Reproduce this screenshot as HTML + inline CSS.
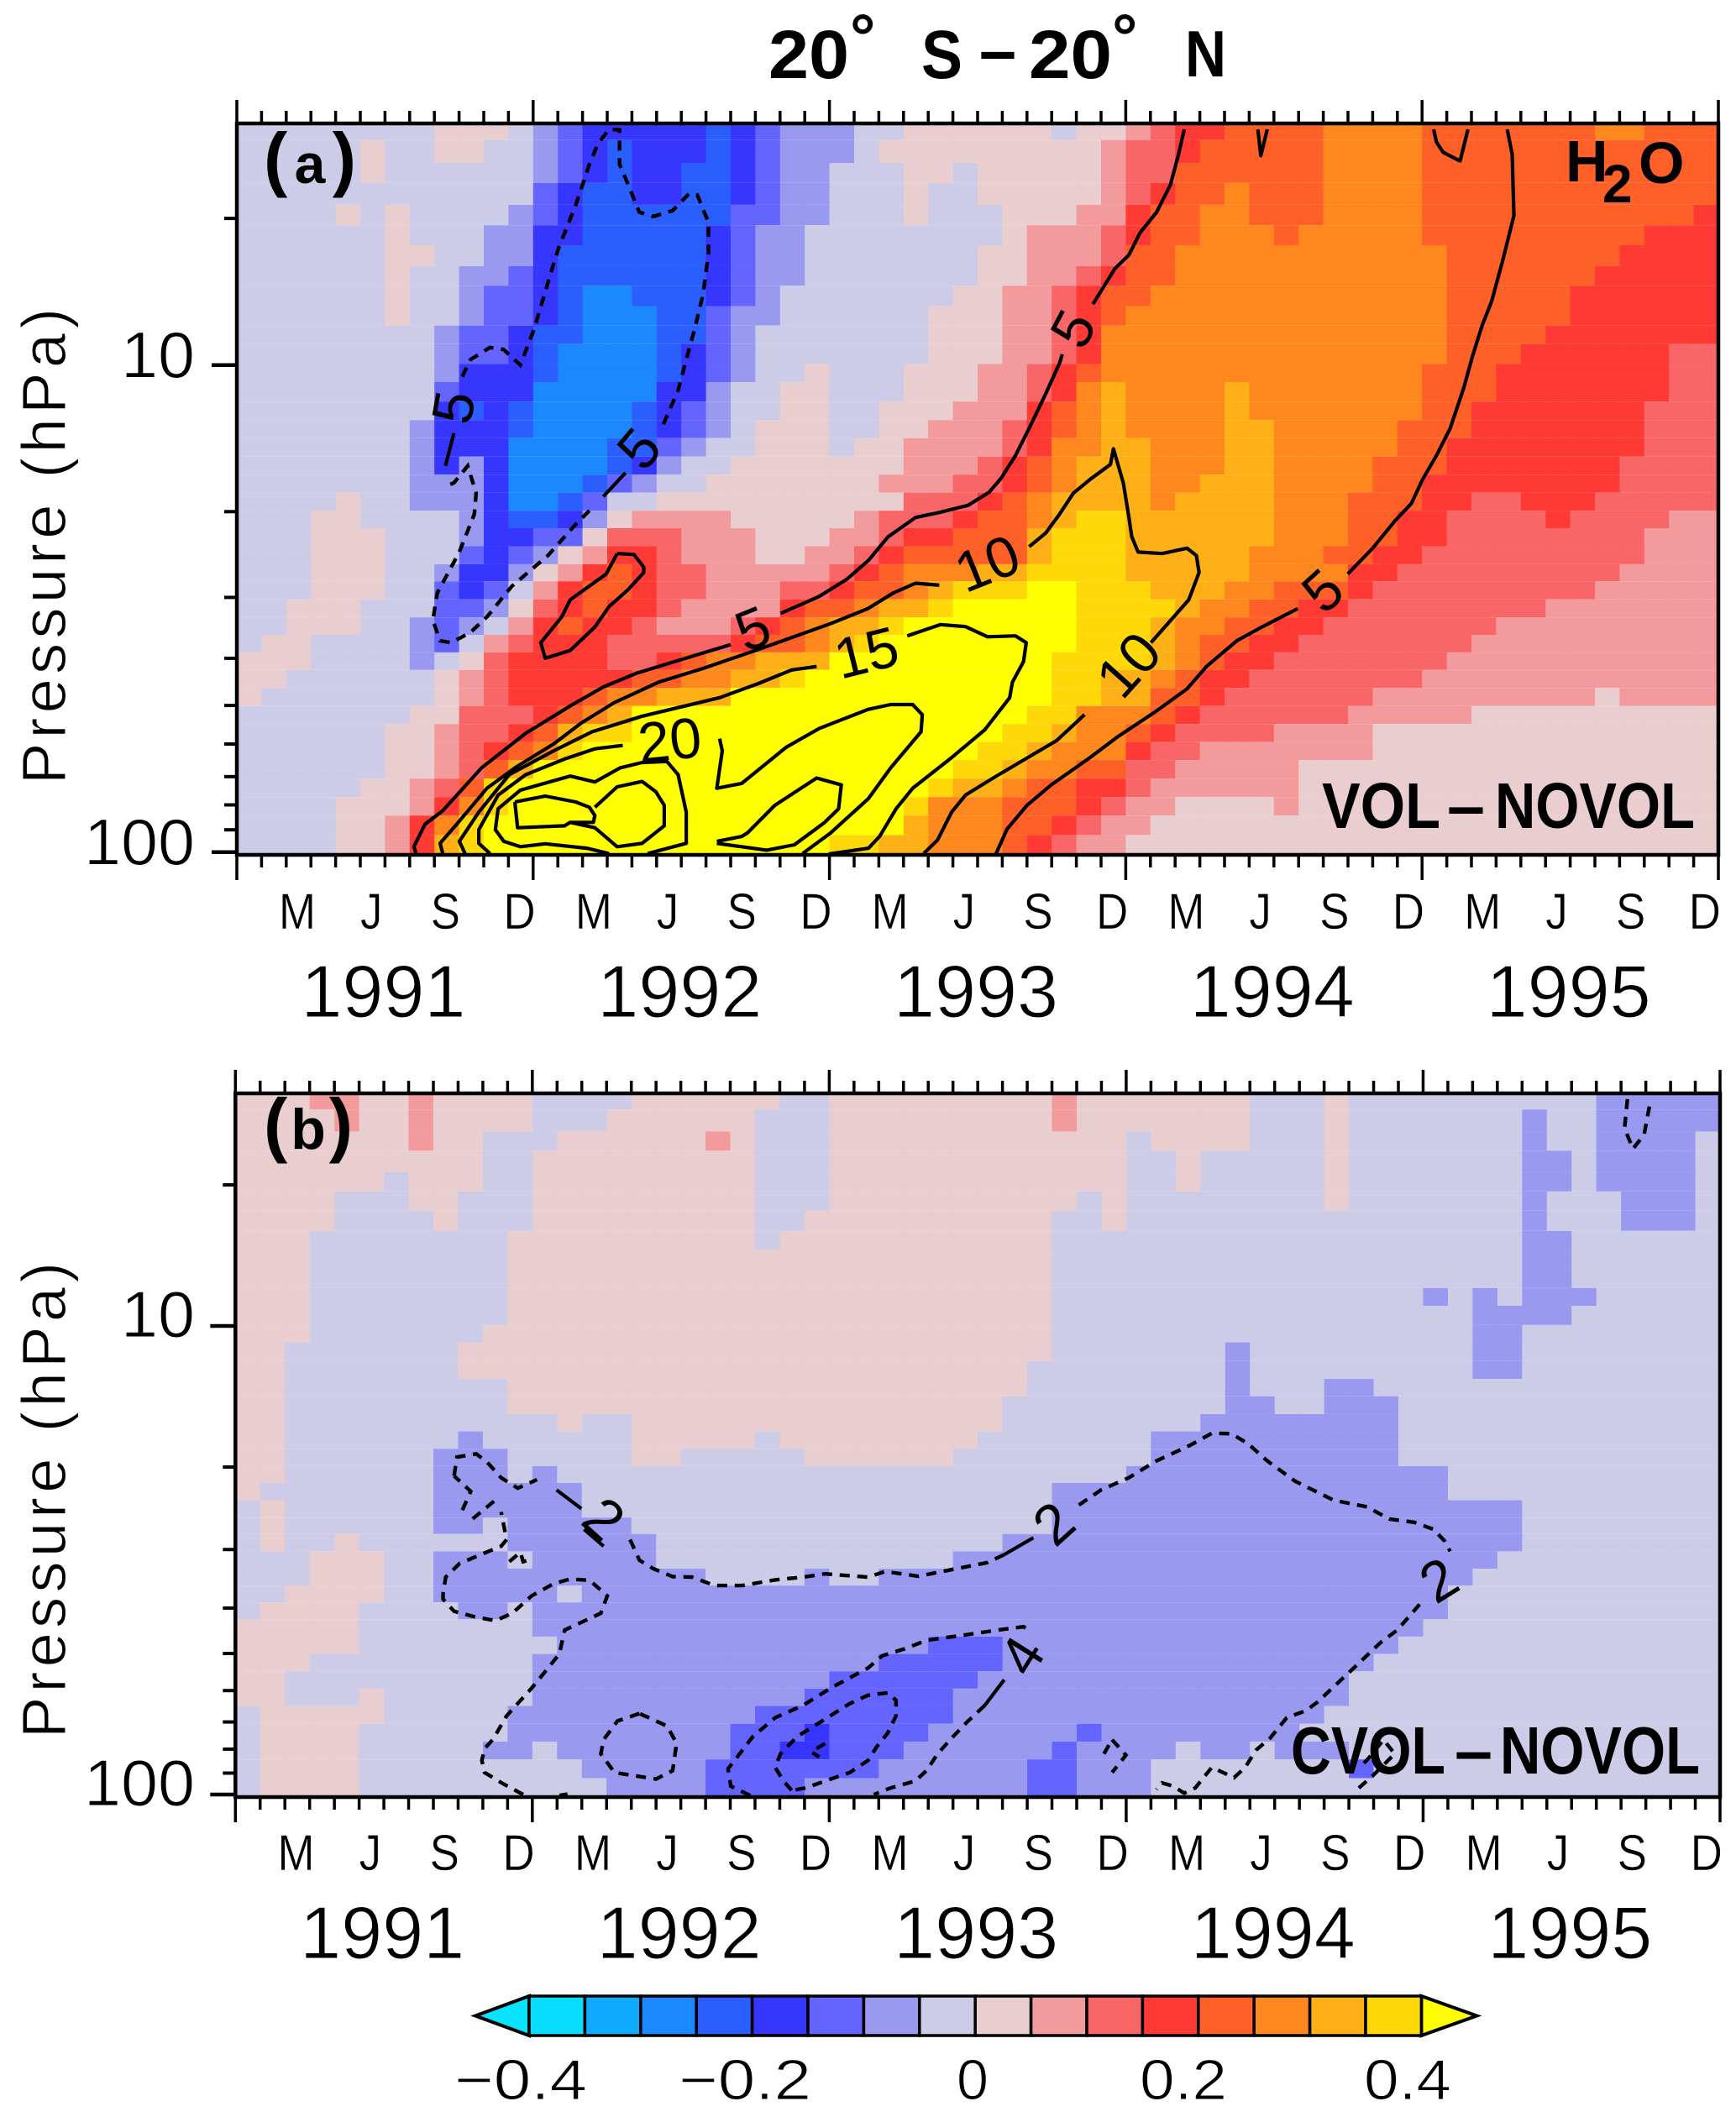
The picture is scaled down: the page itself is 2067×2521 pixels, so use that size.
<!DOCTYPE html>
<html lang="en">
<head>
<meta charset="utf-8">
<title>20° S – 20° N H2O anomalies</title>
<style>
html,body{margin:0;padding:0;background:#fff;}
svg{display:block;}
text{font-family:"Liberation Sans",sans-serif;fill:#000;}
.thin{stroke:#fff;stroke-width:1.1px;}
.thinner{stroke:#fff;stroke-width:0.5px;}
.bold{font-weight:bold;}
</style>
</head>
<body>
<svg id="chart" xmlns="http://www.w3.org/2000/svg" width="2067" height="2521" viewBox="0 0 2067 2521">
<rect x="0" y="0" width="2067" height="2521" fill="#fff"/>
<g id="panelA"></g>
<g id="panelB"></g>
<g id="colorbar"></g>
<g>
<text class="bold" x="915" y="93" font-size="82" textLength="96" lengthAdjust="spacingAndGlyphs">20</text>
<text class="bold" x="1012" y="70" font-size="76">°</text>
<text class="bold" x="1097" y="93" font-size="82" textLength="49" lengthAdjust="spacingAndGlyphs">S</text>
<text class="bold" x="1166" y="88" font-size="82" textLength="44" lengthAdjust="spacingAndGlyphs">–</text>
<text class="bold" x="1225" y="93" font-size="82" textLength="99" lengthAdjust="spacingAndGlyphs">20</text>
<text class="bold" x="1324" y="70" font-size="76">°</text>
<text class="bold" x="1411" y="91" font-size="78" textLength="49" lengthAdjust="spacingAndGlyphs">N</text>
</g>
<text class="bold" x="314" y="218" font-size="85" textLength="110" lengthAdjust="spacing">(<tspan font-size="66">a</tspan>)</text>
<text class="bold" x="314" y="1368" font-size="85" textLength="106" lengthAdjust="spacing">(<tspan font-size="68">b</tspan>)</text>
<g>
<text class="bold" x="1864" y="216" font-size="70">H</text>
<text class="bold" x="1908" y="241" font-size="64">2</text>
<text class="bold" x="1951" y="218" font-size="70">O</text>
</g>
<g>
<text class="bold" x="1574" y="986" font-size="77" textLength="141" lengthAdjust="spacingAndGlyphs">VOL</text>
<text class="bold" x="1723" y="986" font-size="77" textLength="45" lengthAdjust="spacingAndGlyphs">–</text>
<text class="bold" x="1780" y="986" font-size="77" textLength="238" lengthAdjust="spacingAndGlyphs">NOVOL</text>
</g>
<g>
<text class="bold" x="1537" y="2112" font-size="80" textLength="184" lengthAdjust="spacingAndGlyphs">CVOL</text>
<text class="bold" x="1732" y="2112" font-size="80" textLength="45" lengthAdjust="spacingAndGlyphs">–</text>
<text class="bold" x="1786" y="2112" font-size="80" textLength="238" lengthAdjust="spacingAndGlyphs">NOVOL</text>
</g>
<text class="thin" transform="translate(78,934) rotate(-90)" font-size="74" textLength="567" lengthAdjust="spacing">Pressure (hPa)</text>
<text class="thin" transform="translate(78,2070) rotate(-90)" font-size="74" textLength="567" lengthAdjust="spacing">Pressure (hPa)</text>
</svg>
<script>
// Axis categories and ticks
const monthLabels = ["M","J","S","D"];
const monthLabelIndex = [2,5,8,11];
const yearLabels = ["1991","1992","1993","1994","1995"];
const pressureTicks = [5,10,20,30,40,50,60,70,80,90,100];
const pressureLabels = [10,100];
const monthCount = 60;
const colorbarLabels = ["−0.4","−0.2","0","0.2","0.4"];
const colorbarBins = [-8,-7,-6,-5,-4,-3,-2,-1,0,1,2,3,4,5,6,7];

// Model level edges, 1000*log10(p/hPa), top to bottom
const levelLogP = [507,538,585,626,671,713,754,797,837,879,919,957,998,1035,1075,1113,1150,1188,1225,1262,1299,1335,1372,1409,1444,1481,1518,1554,1590,1626,1663,1700,1737,1774,1811,1849,1887,1925,1965,2004];

// Heatmap rows, top level first. Each row alternates: anomaly bin (units of 0.05 ppmv), month where that bin ends.
const h2oVolRuns = [
[-1,8,0,11,-1,12,-2,13,-3,14,-4,19,-5,20,-4,21,-3,22,-2,25,-1,27,0,33,-1,34,0,36,1,37,2,38,3,40,4,44,5,48,4,55,5,57,4,60],
[-1,5,0,6,-1,8,0,10,-1,12,-2,13,-3,14,-4,15,-5,16,-4,19,-5,20,-4,21,-3,22,-2,25,-1,26,0,35,1,36,2,38,3,39,4,44,5,48,4,60],
[-1,5,0,6,-1,12,-2,13,-3,14,-4,15,-5,16,-4,18,-5,20,-4,21,-3,22,-2,24,-1,27,0,29,-1,30,0,35,1,36,2,38,4,44,5,48,4,60],
[-1,12,-3,13,-4,14,-5,16,-4,18,-5,20,-4,21,-3,22,-2,24,-1,27,0,28,-1,30,0,35,1,36,2,37,3,38,4,40,5,41,4,44,5,48,4,60],
[-1,4,0,5,-1,6,0,7,-1,11,-2,12,-3,13,-4,14,-5,20,-3,22,-2,24,-1,27,0,28,-1,31,0,34,1,36,3,37,4,39,5,41,4,44,5,48,4,59,3,60],
[-1,6,0,7,-1,10,-2,12,-4,14,-5,19,-4,20,-3,21,-2,23,-1,31,0,32,1,35,2,36,3,37,4,39,5,42,4,43,5,48,4,57,3,60],
[-1,6,0,8,-1,10,-2,12,-4,13,-5,19,-4,20,-3,21,-2,23,-1,30,0,32,1,35,2,36,4,38,5,49,4,56,3,60],
[-1,6,0,7,-1,9,-2,11,-3,12,-4,13,-5,19,-4,20,-3,21,-2,23,-1,30,0,32,1,34,2,35,3,36,4,38,5,49,4,55,3,60],
[-1,6,0,7,-1,9,-2,10,-3,12,-4,13,-5,14,-6,16,-5,19,-4,20,-3,21,-2,22,-1,29,0,31,1,33,2,34,3,35,4,37,5,49,4,54,3,60],
[-1,6,0,7,-1,9,-2,10,-3,12,-4,13,-5,14,-6,17,-5,19,-3,20,-2,22,-1,28,0,31,1,33,2,34,3,35,4,36,5,49,4,54,3,60],
[-1,8,-2,9,-3,11,-4,12,-5,14,-6,17,-5,19,-3,20,-2,21,-1,28,0,31,1,33,2,34,3,35,5,49,4,53,3,60],
[-1,8,-2,9,-3,11,-4,12,-5,13,-6,17,-5,18,-4,19,-3,20,-2,21,-1,28,0,31,1,33,2,34,3,35,5,49,4,52,3,58,2,60],
[-1,8,-2,9,-4,12,-5,13,-6,17,-5,18,-4,19,-3,20,-2,21,-1,23,0,24,-1,27,0,30,1,32,2,33,3,34,4,35,5,48,4,51,3,58,2,60],
[-1,8,-3,9,-4,12,-6,17,-4,19,-2,20,-1,22,0,24,-1,27,0,30,1,32,2,33,3,34,5,35,6,36,5,40,6,41,5,48,4,51,3,58,2,60],
[-1,8,-4,9,-5,10,-4,11,-5,12,-6,16,-5,17,-4,18,-3,19,-2,20,-1,22,0,24,-1,26,0,29,1,32,3,33,4,34,5,35,6,36,5,40,6,41,5,48,4,50,3,57,2,60],
[-1,7,-2,8,-4,11,-5,12,-6,16,-5,17,-4,18,-3,19,-2,20,-1,21,0,24,-1,26,0,28,1,31,2,32,3,33,4,34,5,35,6,36,5,40,6,42,5,47,4,50,3,57,2,60],
[-1,7,-2,8,-4,11,-6,15,-5,17,-3,18,-2,19,-1,21,0,24,-1,25,0,27,1,31,2,32,3,33,5,35,6,37,5,40,6,42,5,47,4,49,3,57,2,60],
[-1,7,-2,8,-4,9,-2,10,-4,11,-6,15,-5,16,-4,17,-2,18,-1,20,0,27,1,30,2,31,3,32,4,33,5,34,6,37,5,40,6,42,5,46,4,49,3,56,2,60],
[-1,7,-2,10,-4,11,-6,14,-5,15,-3,16,-2,17,-1,19,0,26,1,29,2,31,3,32,4,33,5,34,6,37,5,39,6,42,5,46,4,48,3,56,2,60],
[-1,4,0,5,-1,7,-2,10,-4,11,-6,13,-5,14,-3,15,-1,17,0,27,2,30,3,31,4,32,5,33,6,37,5,38,6,42,5,45,4,48,3,50,2,52,3,55,2,60],
[-1,3,0,5,-1,9,-2,10,-4,11,-5,13,-4,14,-2,15,0,16,1,20,0,25,1,26,2,29,3,30,4,32,5,33,6,34,7,36,6,42,5,45,4,47,3,49,2,53,3,54,2,58,1,60],
[-1,3,0,6,-1,9,-2,10,-4,12,-3,14,0,15,2,18,1,21,0,24,1,26,2,27,3,29,4,32,6,33,7,36,6,42,5,45,4,47,3,49,2,57,1,60],
[-1,3,0,6,-1,9,-3,10,-4,11,-3,12,-2,13,0,14,1,15,3,17,2,18,1,21,0,23,1,25,2,26,3,27,4,32,6,33,7,36,6,41,5,44,4,46,3,48,2,57,1,60],
[-1,3,0,6,-1,8,-2,9,-4,11,-2,12,0,13,1,14,3,15,4,16,3,17,2,19,1,24,2,25,3,26,4,27,5,30,6,32,7,36,6,41,5,45,3,47,2,56,1,60],
[-1,3,0,6,-1,8,-3,9,-4,10,-3,11,-1,12,1,13,3,14,4,16,3,17,2,19,1,22,2,24,3,25,4,27,5,28,6,29,7,32,8,34,7,37,6,40,5,42,4,45,3,46,2,55,1,60],
[-1,2,0,5,-1,8,-3,10,-2,11,0,12,2,13,3,14,4,15,3,17,2,18,1,22,3,23,4,25,5,26,6,28,7,29,8,34,7,38,6,39,5,41,4,43,3,45,2,53,1,60],
[-1,2,0,5,-1,7,-2,8,-3,9,-2,10,-1,11,1,12,3,13,4,14,3,16,2,17,1,20,2,21,3,22,4,23,5,24,6,26,7,27,8,34,7,37,6,38,5,40,4,42,3,44,2,51,1,60],
[-1,1,0,3,-1,7,-2,8,-3,9,-1,10,1,11,2,12,3,15,2,20,3,21,4,23,5,24,6,25,7,26,8,34,7,37,6,38,5,39,4,41,3,43,2,50,1,60],
[0,3,-1,7,-2,8,-1,9,0,10,2,11,3,15,2,17,3,18,4,19,5,21,6,24,8,33,7,37,6,38,5,39,4,40,3,42,2,49,1,60],
[0,2,-1,8,0,9,1,10,2,11,3,16,4,18,5,20,6,22,7,23,8,33,7,35,6,37,5,38,4,39,3,41,2,48,1,60],
[0,1,-1,8,0,9,1,10,2,11,3,14,4,15,5,17,6,20,8,33,7,35,6,37,4,39,3,40,2,46,1,55,0,56,1,60],
[-1,7,0,9,2,12,3,13,4,14,5,15,6,16,8,32,7,34,5,37,4,38,3,39,2,45,1,50,0,60],
[-1,6,0,8,1,9,2,11,3,12,4,13,6,14,7,16,8,31,7,33,6,34,5,36,4,37,3,38,2,42,1,46,0,60],
[-1,6,0,8,1,9,2,10,3,11,4,12,5,13,7,14,8,30,7,32,6,33,5,36,3,37,2,39,1,46,0,60],
[-1,6,0,8,1,9,2,10,4,11,6,12,8,29,7,31,6,32,5,34,4,36,2,38,1,43,0,60],
[-1,5,0,7,1,8,2,9,4,10,7,11,8,28,7,29,6,31,5,32,4,34,3,36,2,37,1,43,0,60],
[-1,4,0,7,1,8,3,9,5,10,7,11,8,27,7,28,5,31,4,34,3,35,2,36,1,38,0,42,1,43,0,60],
[-1,4,0,6,1,7,3,8,5,9,7,10,8,27,6,28,5,31,4,33,3,34,2,35,1,37,0,60],
[-1,4,0,6,1,7,3,8,6,9,7,10,8,24,7,26,6,28,5,31,4,32,3,33,2,34,1,36,0,60]
];
const h2oCvolRuns = [
[0,3,1,5,0,7,1,8,0,12,-1,16,0,22,-1,24,0,33,1,34,0,41,-1,44,0,45,-1,55,-2,60],
[0,4,1,5,0,7,1,8,0,12,-1,15,0,21,-1,24,0,33,1,34,0,41,-1,44,0,45,-1,52,-2,53,-1,55,-2,60],
[0,7,1,8,0,10,-1,13,0,19,1,20,0,21,-1,24,0,36,-1,37,0,41,-1,44,0,45,-1,52,-2,53,-1,55,-2,59,-1,60],
[0,10,-1,12,0,21,-1,24,0,36,-1,38,0,39,-1,44,0,45,-1,52,-2,54,-1,55,-2,59,-1,60],
[0,6,-1,7,0,10,-1,12,0,21,-1,24,0,36,-1,38,0,39,-1,44,0,45,-1,52,-2,54,-1,55,-2,59,-1,60],
[0,4,-1,7,0,9,-1,12,0,21,-1,24,0,34,-1,35,0,36,-1,44,0,45,-1,52,-2,53,-1,56,-2,59,-1,60],
[0,4,-1,8,0,9,-1,12,0,21,-1,23,0,33,-1,35,0,36,-1,52,-2,53,-1,56,-2,59,-1,60],
[0,3,-1,11,0,21,-1,22,0,33,-1,52,-2,54,-1,60],
[0,3,-1,11,0,33,-1,52,-2,54,-1,60],
[0,3,-1,11,0,33,-1,52,-2,54,-1,60],
[0,3,-1,11,0,33,-1,48,-2,49,-1,50,-2,51,-1,52,-2,55,-1,60],
[0,3,-1,11,0,33,-1,50,-2,54,-1,60],
[0,3,-1,10,0,33,-1,50,-2,52,-1,60],
[0,2,-1,9,0,33,-1,40,-2,41,-1,50,-2,52,-1,60],
[0,2,-1,9,0,32,-1,40,-2,41,-1,50,-2,52,-1,60],
[0,2,-1,11,0,32,-1,40,-2,41,-1,44,-2,46,-1,60],
[0,2,-1,11,0,31,-1,40,-2,42,-1,44,-2,47,-1,60],
[0,2,-1,13,0,14,-1,16,0,31,-1,39,-2,47,-1,60],
[0,2,-1,9,-2,10,-1,16,0,21,-1,22,0,30,-1,37,-2,47,-1,60],
[0,2,-1,8,-2,11,-1,16,0,18,-1,23,0,29,-1,37,-2,47,-1,60],
[0,2,-1,8,-2,11,-1,12,-2,13,-1,36,-2,49,-1,60],
[0,1,-1,8,-2,14,-1,33,-2,49,-1,60],
[-1,1,0,2,-1,8,-2,14,-1,33,-2,52,-1,60],
[-1,1,0,2,-1,8,-2,10,-1,11,-2,16,-1,33,-2,52,-1,60],
[-1,1,0,2,-1,4,0,5,-1,11,-2,17,-1,31,-2,52,-1,60],
[-1,3,0,6,-1,8,-2,11,-1,12,-2,17,-1,29,-2,51,-1,60],
[-1,3,0,6,-1,8,-2,19,-1,23,-2,24,-1,26,-2,50,-1,60],
[-1,2,0,6,-1,8,-2,13,-1,14,-2,49,-1,60],
[-1,1,0,5,-1,9,-2,11,-1,12,-2,49,-1,60],
[0,5,-1,12,-2,48,-1,60],
[0,5,-1,13,-2,28,-3,31,-2,47,-1,60],
[0,3,-1,12,-2,26,-3,31,-2,46,-1,60],
[0,2,-1,12,-2,24,-3,30,-2,45,-1,60],
[0,2,-1,5,0,6,-1,12,-2,23,-3,29,-2,45,-1,60],
[-1,1,0,6,-1,11,-2,21,-3,29,-2,44,-1,60],
[-1,1,0,5,-1,11,-2,20,-3,23,-4,24,-3,28,-2,34,-3,35,-2,43,-1,60],
[-1,1,0,5,-1,10,-2,12,-1,13,-2,20,-3,22,-4,24,-3,27,-2,33,-3,34,-2,38,-1,39,-2,41,-1,42,-2,45,-1,60],
[-1,1,0,5,-1,14,-2,19,-3,26,-2,32,-3,34,-2,37,-1,45,-3,46,-1,60],
[-1,1,0,5,-1,15,-2,19,-3,23,-2,32,-3,34,-2,37,-1,60]
];

// Contours: points are [month index, 1000*log10(p/hPa)]
const h2oVolSolid = [
[[7.26,2003],[7.17,1989],[7.62,1943],[8.34,1915],[9.91,1827],[11.7,1756],[13.5,1700],[14.84,1661],[16.18,1633],[17.98,1605],[20,1574]],
[[22.02,1510],[23.59,1475],[24.7,1440],[25.58,1401],[26.37,1353],[27.49,1313],[28.5,1302],[29.62,1288],[30.47,1261],[30.96,1232],[31.53,1186],[32.09,1130],[32.76,1059],[33.32,996],[33.43,978]],
[[34.67,875],[35.56,802],[36.13,774],[36.57,729],[37.25,686],[37.81,630],[38.14,567],[38.37,516]],
[[41.35,516],[41.47,570],[41.73,516]],
[[48.47,516],[48.58,542],[48.85,563],[49.54,581],[49.86,516]],
[[30.74,2004],[31.19,1953],[32,1904],[32.98,1862],[34.55,1806],[35.68,1763],[37.14,1714],[38.48,1665],[39.27,1619],[40.5,1566],[41.51,1538],[42.97,1500]],
[[44.99,1429],[46,1376],[46.9,1320],[47.57,1284],[48.02,1235],[48.58,1186],[49.14,1130],[49.7,1045],[50.04,982],[50.44,918],[50.82,869],[51.27,785],[51.72,693],[51.68,623],[51.65,567],[51.45,516]],
[[15.4,1387],[16.08,1389],[16.48,1415],[16.48,1426],[15.85,1461],[15.07,1496],[14.5,1538],[13.5,1586],[12.49,1602],[12.31,1570],[13.16,1517],[13.5,1482],[14.96,1429],[15.4,1387]],
[[8.34,2003],[8.23,1982],[8.9,1943],[10.13,1869],[11.26,1827],[12.83,1778],[13.95,1735],[15.29,1693],[17.09,1651],[18.88,1623],[21.12,1584],[24.04,1531],[25.56,1500],[26.59,1468],[27.49,1448],[28.45,1452]],
[[32.09,1373],[32.76,1345],[33.32,1306],[33.88,1263],[34.55,1235],[35.38,1204],[35.5,1172],[35.9,1242],[36.13,1313],[36.24,1352],[36.5,1384],[37.47,1387],[38.48,1376],[38.86,1391],[38.97,1426],[38.55,1482],[37.7,1531],[37.02,1570]],
[[34.33,1718],[33.2,1771],[30.63,1848],[29.51,1883],[28.95,1918],[28.38,1975],[27.82,2003]],
[[9.24,2003],[9.01,1978],[9.8,1918],[11.03,1841],[12.83,1792],[14.39,1753],[16.41,1721],[19.55,1683],[21.12,1654],[22.47,1626],[23.48,1619]],
[[27.15,1556],[28.5,1533],[29.51,1537],[30.4,1558],[31.53,1556],[31.97,1570],[31.86,1609],[31.41,1651],[31.3,1683],[30.29,1749],[28.95,1806],[27.37,1869],[26.7,1911],[26.03,1968],[25.58,1992],[23.97,2004]],
[[10.25,2003],[9.8,1982],[9.8,1954],[10.58,1883],[11.7,1841],[13.27,1809],[14.5,1788],[15.63,1781]],
[[19.55,1767],[19.66,1792],[19.44,1869],[20.45,1859],[22.24,1785],[23.59,1746],[25.56,1707],[26.48,1697],[27.37,1697],[27.76,1718],[27.71,1753],[26.48,1827],[25.58,1890],[24.04,1961],[22.91,2003]],
[[15.07,2003],[14.17,1992],[12.49,1983],[11.48,1989],[10.81,1978],[10.47,1954],[10.58,1911],[11.48,1873],[13.5,1844],[14.5,1856],[15.52,1827],[16.41,1816],[17.42,1814],[17.87,1841],[18.2,1918],[18.2,1982],[16.64,2003]],
[[11.26,1897],[12.49,1885],[13.72,1897],[14.28,1908],[14.5,1925],[14.44,1939],[13.5,1939],[13.27,1946],[11.37,1950],[11.26,1897]],
[[14.5,1908],[15.4,1866],[16.41,1855],[16.97,1876],[17.31,1904],[17.31,1946],[16.41,1982],[15.4,1989],[14.5,1950],[13.5,1939]],
[[19.44,1978],[20.45,1968],[20.67,1961],[21.79,1904],[23.48,1848],[24.48,1862],[24.37,1911],[23.81,1939],[22.58,1985],[21.46,1996],[19.44,1982]],
[[15.74,1221],[14.84,1270]],
[[8.45,1207],[8.79,1140]]
];
const h2oVolDashed = [
[[9.13,1024],[9.46,989],[10.25,964],[10.8,968],[11.48,1000],[12.04,926],[12.83,792],[13.05,757],[13.72,672],[14.28,588],[14.62,546],[15.07,516],[15.5,517],[15.5,588],[15.85,630],[16.3,686],[16.86,695],[17.65,683],[18.32,648],[18.65,651],[19.1,707],[19.1,771],[18.88,855],[18.54,926],[18.2,989],[17.87,1052],[17.2,1130]],
[[14.28,1299],[13.72,1327],[12.6,1391],[11.14,1454],[10.13,1517],[9.46,1549],[8.68,1570],[8.23,1566],[7.94,1524],[8.12,1468],[9.01,1384],[9.62,1306],[9.69,1263],[9.35,1207],[8.79,1242],[8.45,1249]]
];
const h2oVolLabels = [["5",8.79,1087],["5",16.3,1172],["5",20.9,1542],["5",33.88,926],["5",43.98,1464],["10",30.4,1408],["10",36.13,1616],["15",25.5,1591],["20",17.53,1771]];
const h2oCvolSolid = [
[[12.98,1350],[13.98,1390]],
[[14.09,1434],[14.88,1470]],
[[31.07,1488],[32.25,1452]],
[[31.07,1755],[30.28,1810]]
];
const h2oCvolDashed = [
[[8.84,1320],[8.95,1280],[9.73,1273],[10.18,1291],[10.74,1324],[11.41,1346],[12.19,1328]],
[[15.95,1456],[16.33,1500],[16.89,1518],[17.67,1535],[18.46,1536],[19.35,1554],[20.47,1554],[21.81,1542],[22.93,1536],[23.83,1529],[25.57,1536],[26.25,1524],[27.6,1534],[28.94,1520],[30.39,1505],[31.07,1488]],
[[34.09,1382],[34.98,1350],[36.1,1324],[37.22,1288],[38.57,1255],[39.46,1229],[40.25,1230],[40.92,1251],[41.7,1288],[42.82,1331],[44.39,1372],[45.73,1386],[46.63,1412],[47.64,1419],[48.42,1434],[48.87,1459],[49.09,1481]],
[[47.86,1594],[46.96,1649],[46.29,1675],[45.06,1737],[44.61,1759],[43.72,1803],[43.27,1821],[42.49,1836],[41.81,1880],[41.25,1905],[40.81,1942],[40.36,1964],[39.46,1942],[38.79,1986],[38.34,1997],[37.9,1982],[37.45,1975],[37.22,1989]],
[[13.42,1999],[13.1,2002]],
[[11.63,2000],[10.85,1978],[10.07,1953],[9.96,1927],[10.07,1902],[10.4,1883],[10.96,1832],[11.97,1773],[12.53,1737],[13.09,1700],[13.31,1649],[13.76,1638],[14.77,1613],[15.03,1576],[14.32,1543],[13.53,1540],[12.86,1550],[11.97,1576],[11.19,1613],[10.51,1629],[9.62,1620],[8.84,1609],[8.39,1583],[8.39,1572],[8.5,1536],[9.06,1507],[9.73,1492],[10.74,1470],[10.96,1456],[10.74,1397]],
[[10.45,1374],[9.51,1415]],
[[9.17,1393],[9.51,1353],[8.84,1320]],
[[11.07,1503],[11.52,1483],[11.63,1503],[11.97,1498]],
[[16.33,1827],[15.44,1843],[14.88,1883],[14.77,1913],[15.32,1953],[17,1967],[17.67,1949],[17.83,1891],[17.45,1854],[16.33,1827]],
[[20.8,2002],[20.02,1982],[19.91,1945],[20.92,1876],[21.81,1836],[22.93,1810],[24.05,1773],[25.57,1730],[26.14,1704],[27.04,1689],[27.93,1671],[29.39,1660],[30.95,1648],[31.85,1642],[32.19,1653]],
[[30.28,1810],[29.61,1843],[28.94,1880],[28.38,1913],[27.93,1949],[27.48,1971],[26.48,1986],[25.8,2000]],
[[22.48,1991],[22.15,1971],[21.81,1942],[22.03,1913],[22.71,1876],[23.83,1839],[24.83,1806],[25.57,1788],[26.36,1783],[26.7,1799],[26.7,1832],[26.36,1869],[25.92,1898],[25.57,1927],[24.83,1953],[23.83,1971],[23.05,1986],[22.48,1991]],
[[23.83,1891],[23.27,1909],[23.6,1920]],
[[35.43,1883],[35.99,1916],[35.43,1953]],
[[35.1,1913],[35.43,1883]],
[[45.4,1986],[45.96,1960],[46.85,1913],[46.4,1883],[45.84,1920],[45.4,1945]],
[[56.26,516],[56.14,578],[56.48,622],[56.93,592],[57.2,516]]
];
const h2oCvolLabels = [["2",14.88,1412],["2",33.08,1422],["2",48.64,1543],["4",31.8,1704]];

// Presentation settings, kept apart from the data
const binColors = {"-9":"#08E4FF","-8":"#08DCFF","-7":"#10AAFF","-6":"#1C88FF","-5":"#2A5EFF","-4":"#3636FF","-3":"#6464FF","-2":"#9999F0","-1":"#CCCCE8","0":"#E9CDCF","1":"#F29A9C","2":"#F86668","3":"#FF3A34","4":"#FF6028","5":"#FF881E","6":"#FFB016","7":"#FFD80A","8":"#FFFF00"};
const labelAnglesA = [-80,-50,-22,-62,-42,-22,-48,-14,-6];
const labelAnglesB = [42,-42,-32,-58];
const SVGNS = "http://www.w3.org/2000/svg";

function mk(parent, tag, attrs){
  const el = document.createElementNS(SVGNS, tag);
  for (const k in attrs) el.setAttribute(k, attrs[k]);
  parent.appendChild(el);
  return el;
}
function expandRow(runs){
  const out = [];
  for (let i = 0; i < runs.length; i += 2){
    while (out.length < runs[i+1] && out.length < monthCount) out.push(runs[i]);
  }
  return out;
}
function buildPanel(g, p){
  const x = m => p.x0 + m * (p.x1 - p.x0) / monthCount;
  const yLog = l => p.y10 + (l - 1000) * p.yScale;
  const yP = v => yLog(1000 * Math.log10(v));

  // heatmap
  p.runs.forEach((runs, r) => {
    const vals = expandRow(runs);
    const yt = yLog(levelLogP[r]), yb = yLog(levelLogP[r+1]);
    vals.forEach((v, c) => {
      const cell = mk(g, "rect", {x: x(c), y: yt, width: x(c+1) - x(c) + 0.6, height: yb - yt, fill: binColors[v]});
      
      
    });
  });

  // contours
  const pts = line => line.map(q => x(q[0]).toFixed(1) + "," + yLog(q[1]).toFixed(1)).join(" ");
  p.solid.forEach(line => {
    const el = mk(g, "polyline", {points: pts(line), fill: "none", stroke: "#000", "stroke-width": 4.2, "stroke-linejoin": "round"});
    
    
  });
  p.dashed.forEach(line => {
    const el = mk(g, "polyline", {points: pts(line), fill: "none", stroke: "#000", "stroke-width": 4.4, "stroke-dasharray": "12 9"});
    
    
  });
  p.labels.forEach((l, i) => {
    const px = x(l[1]), py = yLog(l[2]);
    const el = mk(g, "text", {transform: "translate(" + px.toFixed(1) + "," + py.toFixed(1) + ") rotate(" + p.angles[i] + ")", "text-anchor": "middle", "dominant-baseline": "central", "font-size": 68});
    el.textContent = l[0];
    
    
  });

  // frame
  const frame = mk(g, "rect", {x: p.x0, y: p.yTop, width: p.x1 - p.x0, height: p.yBot - p.yTop, fill: "none", stroke: "#000", "stroke-width": 4.5});
  
  

  // month ticks, top and bottom
  for (let m = 0; m <= monthCount; m++){
    const major = m % 12 === 0;
    const top = mk(g, "line", {x1: x(m), x2: x(m), y1: p.yTop, y2: p.yTop - (major ? p.tickMajor : p.tickMinor), stroke: "#000", "stroke-width": 3.5});
    
    
    const bot = mk(g, "line", {x1: x(m), x2: x(m), y1: p.yBot, y2: p.yBot + (major ? p.tickMajor + 2 : p.tickMinor), stroke: "#000", "stroke-width": 3.5});
    
    
  }

  // pressure ticks and labels
  pressureTicks.forEach(v => {
    const major = pressureLabels.indexOf(v) >= 0;
    const t = mk(g, "line", {x1: p.x0, x2: p.x0 - (major ? 30 : 15), y1: yP(v), y2: yP(v), stroke: "#000", "stroke-width": major ? 4.5 : 4});
    
    
  });
  pressureLabels.forEach(v => {
    const w = String(v).length * 44;
    const t = mk(g, "text", {class: "thin", x: 232 - w, y: yP(v) + p.tickLabelDy, "font-size": 78, textLength: w, lengthAdjust: "spacingAndGlyphs"});
    t.textContent = v;
    
    
  });

  // month and year labels
  yearLabels.forEach((yr, yi) => {
    monthLabels.forEach((lab, li) => {
      const m = yi * 12 + monthLabelIndex[li] + 0.5;
      const t = mk(g, "text", {class: "thinner", transform: "translate(" + (x(m) - 1.5).toFixed(1) + "," + p.monthBase + ") scale(0.88,1)", "text-anchor": "middle", "font-size": 60});
      t.textContent = lab;
      
      
    });
    const t = mk(g, "text", {class: "thin", x: x(yi * 12 + 6) - 100, y: p.yearBase, "font-size": 88, textLength: 196, lengthAdjust: "spacingAndGlyphs"});
    t.textContent = yr;
    
    
  });
}

buildPanel(document.getElementById("panelA"), {
  runs: h2oVolRuns, solid: h2oVolSolid, dashed: h2oVolDashed, labels: h2oVolLabels, angles: labelAnglesA,
  x0: 282, x1: 2046, y10: 434.7, yScale: 0.58, yTop: 147, yBot: 1018,
  tickMinor: 15, tickMajor: 28, tickLabelDy: 15, monthBase: 1106, yearBase: 1211
});
buildPanel(document.getElementById("panelB"), {
  runs: h2oCvolRuns, solid: h2oCvolSolid, dashed: h2oCvolDashed, labels: h2oCvolLabels, angles: labelAnglesB,
  x0: 280.3, x1: 2048, y10: 1579, yScale: 0.558, yTop: 1302, yBot: 2140,
  tickMinor: 15, tickMajor: 28, tickLabelDy: 13, monthBase: 2227, yearBase: 2332
});

// colour bar
(function(){
  const g = document.getElementById("colorbar");
  const bx0 = 630, bw = 66.4, yt = 2377, yb = 2424, ym = 2400.5;
  const left = mk(g, "polygon", {points: "566,"+ym+" "+bx0+","+yt+" "+bx0+","+yb, fill: binColors["-9"], stroke: "#000", "stroke-width": 4});
  
  
  const xr = bx0 + bw * colorbarBins.length;
  const right = mk(g, "polygon", {points: (xr + 66)+","+ym+" "+xr+","+yt+" "+xr+","+yb, fill: binColors["8"], stroke: "#000", "stroke-width": 4});
  
  
  colorbarBins.forEach((b, i) => {
    const box = mk(g, "rect", {x: bx0 + i * bw, y: yt, width: bw, height: yb - yt, fill: binColors[b], stroke: "#000", "stroke-width": 3.5});
    
    
  });
  const centers = [620, 887, 1158, 1409, 1676];
  const widths = [158, 158, 38, 104, 104];
  colorbarLabels.forEach((lab, i) => {
    const t = mk(g, "text", {class: "thin", x: centers[i] - widths[i] / 2, y: 2500, "font-size": 68, textLength: widths[i], lengthAdjust: "spacingAndGlyphs"});
    t.textContent = lab;
    
    
  });
})();
</script>
</body>
</html>
